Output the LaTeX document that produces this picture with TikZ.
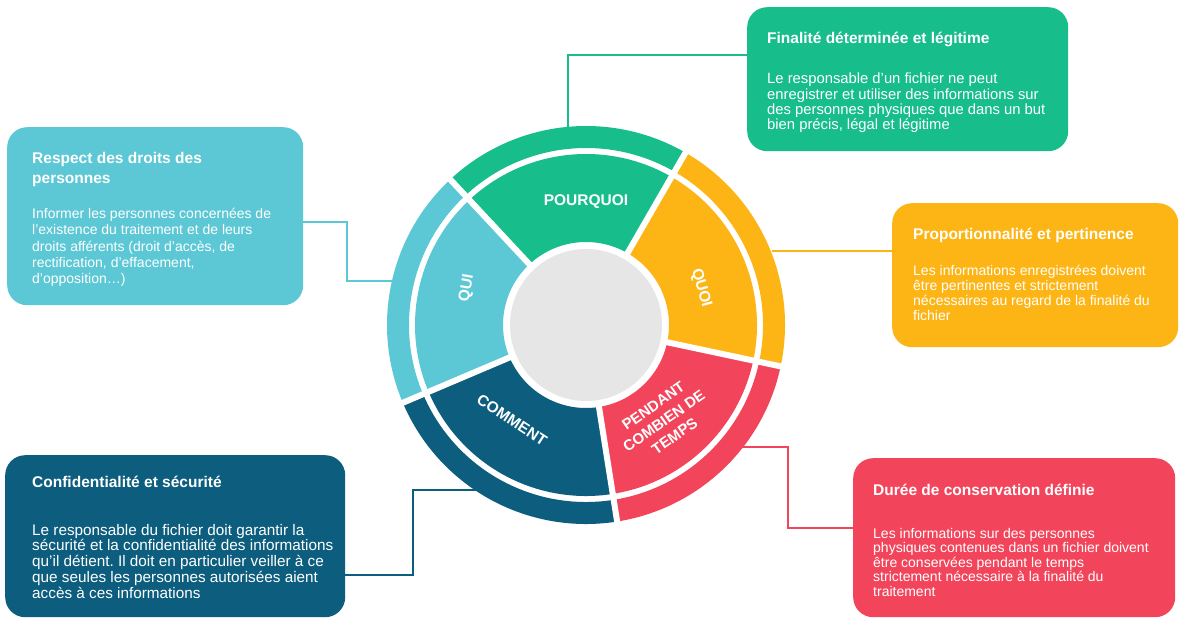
\documentclass[tikz,border=0pt]{standalone}
\usepackage{fontspec}
\setmainfont{Liberation Sans}
\frenchspacing
\definecolor{cgreen}{HTML}{17BE8B}
\definecolor{cblue}{HTML}{5CC8D5}
\definecolor{cyellow}{HTML}{FDB515}
\definecolor{cdark}{HTML}{0D5E7E}
\definecolor{cred}{HTML}{F2455B}
\definecolor{cgray}{HTML}{E6E6E6}
\newcommand\txtlines[1]{\begin{tabular}[t]{@{}l@{}}#1\end{tabular}}
\newcommand\wheelseg[3]{%
  \fill[#1,shift={(586,-325)}] (#2:83) arc[start angle=#2,end angle=#3,radius=83]
     -- (#3:171) arc[start angle=#3,end angle=#2,radius=171] -- cycle;
  \fill[#1,shift={(586,-325)}] (#2:177) arc[start angle=#2,end angle=#3,radius=177]
     -- (#3:199) arc[start angle=#3,end angle=#2,radius=199] -- cycle;}
\begin{document}
\begin{tikzpicture}[x=1pt,y=1pt,
  box/.style={rounded corners=20pt, inner sep=0pt, anchor=north west, draw=none},
  ttl/.style={anchor=base west, inner sep=0pt, text=white, font=\fontsize{15.5}{20}\selectfont\bfseries},
  bdy/.style={anchor=base west, inner sep=0pt, text=white},
  conn/.style={line width=1.4pt},
  wlab/.style={text=white, font=\fontsize{15.5}{17}\selectfont\bfseries, inner sep=0pt, align=center},
]
\useasboundingbox (0,0) rectangle (1179,-618);
\fill[white] (0,0) rectangle (1179,-618);

% boxes
\node[box, fill=cgreen, minimum width=321pt, minimum height=144pt] (gbox) at (747,-7) {};
\node[box, fill=cblue, minimum width=296pt, minimum height=178pt] (lbox) at (7,-127) {};
\node[box, fill=cyellow, minimum width=286pt, minimum height=144pt] (ybox) at (892,-203) {};
\node[box, fill=cdark, minimum width=340pt, minimum height=162pt] (dbox) at (5,-455) {};
\node[box, fill=cred, minimum width=322pt, minimum height=159pt] (rbox) at (853,-458) {};

% connectors
\coordinate (gk) at (568,-55);
\coordinate (gw) at (568,-130);
\draw[conn,cgreen] (gbox.west |- gk) -- (gk) -- (gw);
\coordinate (lk1) at (347,-222);
\coordinate (lk2) at (347,-281);
\coordinate (lw) at (396,-281);
\draw[conn,cblue] (lbox.east |- lk1) -- (lk1) -- (lk2) -- (lw);
\coordinate (yw) at (772,-251);
\draw[conn,cyellow] (ybox.west |- yw) -- (yw);
\coordinate (dk1) at (413,-575);
\coordinate (dk2) at (413,-490);
\coordinate (dw) at (480,-490);
\draw[conn,cdark] (dbox.east |- dk1) -- (dk1) -- (dk2) -- (dw);
\coordinate (rw) at (740,-447);
\coordinate (rk1) at (788,-447);
\coordinate (rk2) at (788,-528);
\draw[conn,cred] (rw) -- (rk1) -- (rk2) -- (rbox.west |- rk2);

% wheel
\wheelseg{cgreen}{60}{133}
\wheelseg{cblue}{133}{203}
\wheelseg{cdark}{203}{279}
\wheelseg{cred}{279}{348}
\wheelseg{cyellow}{348}{420}
\foreach \a in {60,133,203,279,348}
  \draw[white, line width=6pt, shift={(586,-325)}] (\a:78) -- (\a:206);
\fill[cgray] (586,-325) circle[radius=76];

% wheel labels
\node[wlab] (lpq) at (586,-202) {POURQUOI};
\node[wlab, rotate=80] (lqi) at (467,-288) {QUI};
\node[wlab, rotate=-74] (lqo) at (701,-288) {QUOI};
\node[wlab, rotate=-33] (lcm) at (512,-420) {COMMENT};
\node[wlab, rotate=35, font=\fontsize{15}{18.5}\selectfont\bfseries] (lpd) at (664,-421) {PENDANT\\COMBIEN DE\\TEMPS};

% texts
\node[ttl] (gt) at (767,-43.5) {Finalité déterminée et légitime};
\node[bdy, font=\fontsize{14.8}{14.6}\selectfont] (gb) at (767,-84) {\txtlines{Le responsable d'un fichier ne peut\\enregistrer et utiliser des informations sur\\des personnes physiques que dans un but\\bien précis, légal et légitime}};

\node[ttl] (lt) at (32,-163.5) {\txtlines{Respect des droits des\\personnes}};
\node[bdy, font=\fontsize{14}{16.5}\selectfont] (lb) at (32,-218) {\txtlines{Informer les personnes concernées de\\l'existence du traitement et de leurs\\droits afférents (droit d’accès, de\\rectification, d’effacement,\\d’opposition…)}};

\node[ttl] (yt) at (913,-239.5) {Proportionnalité et pertinence};
\node[bdy, font=\fontsize{14}{15}\selectfont] (yb) at (913,-275) {\txtlines{Les informations enregistrées doivent\\être pertinentes et strictement\\nécessaires au regard de la finalité du\\fichier}};

\node[ttl] (dt) at (32,-487) {Confidentialité et sécurité};
\node[bdy, font=\fontsize{15.3}{15.3}\selectfont] (db) at (32,-535) {\txtlines{Le responsable du fichier doit garantir la\\sécurité et la confidentialité des informations\\qu'il détient. Il doit en particulier veiller à ce\\que seules les personnes autorisées aient\\accès à ces informations}};

\node[ttl] (rt) at (873,-495) {Durée de conservation définie};
\node[bdy, font=\fontsize{14}{14.3}\selectfont] (rb) at (873,-538) {\txtlines{Les informations sur des personnes\\physiques contenues dans un fichier doivent\\être conservées pendant le temps\\strictement nécessaire à la finalité du\\traitement}};
\end{tikzpicture}
\end{document}
